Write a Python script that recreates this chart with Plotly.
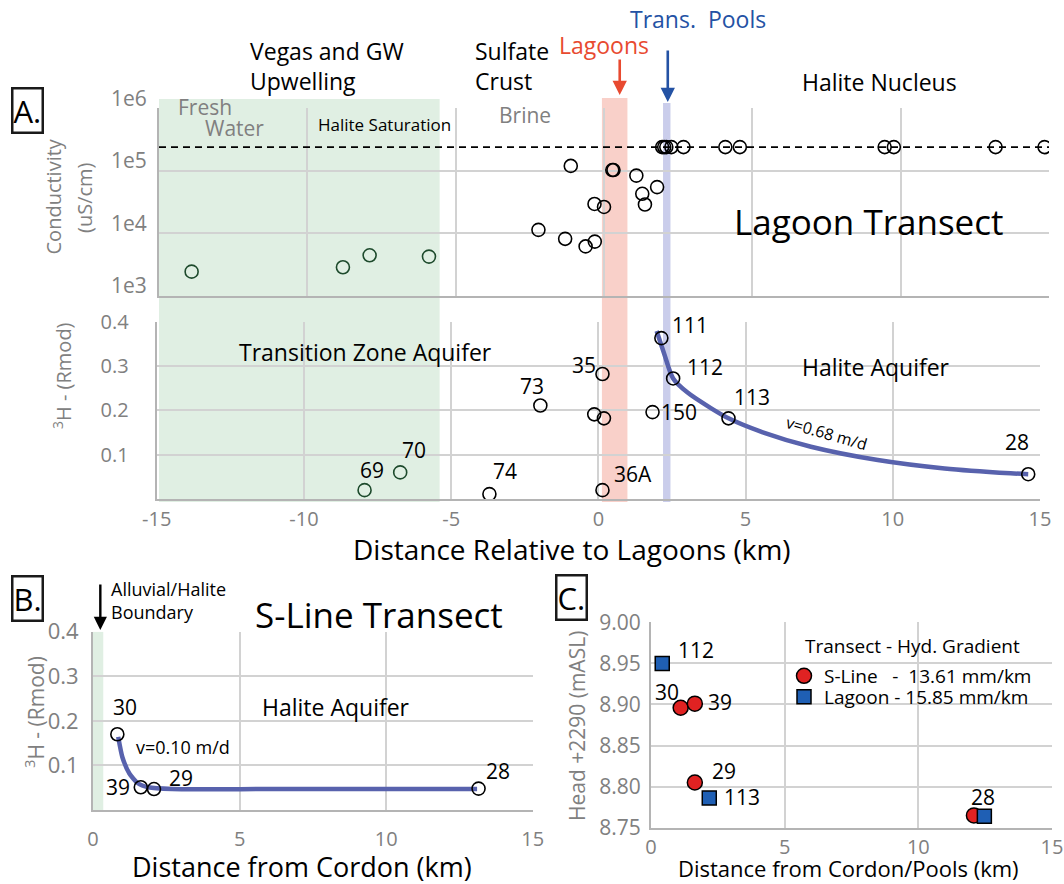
import plotly.graph_objects as go

W, H = 1064, 884
FONT = "Open Sans"
GRAY = "#808080"
GRID = "#d2d2d2"
AXLINE = "#b4b4b4"
CURVE = "#5862ad"
DKGREEN = "#1d4a2c"

# ---------------- Panel A: conductivity along the lagoon transect ----------------
SAT_LEVEL = 2.4e5  # halite saturation conductivity (uS/cm)
fresh_x = [-13.9, -8.8, -7.9, -5.9]
fresh_ec = [2450, 2880, 4470, 4260]
brine_x = [-1.12, 0.28, 0.32, 1.09, 1.79, 1.29, 1.38, -0.32, 0.0, -2.21, -1.31, -0.31, -0.62]
brine_ec = [1.2e5, 1.03e5, 1.03e5, 8.4e4, 5.5e4, 4.3e4, 2.9e4, 2.96e4, 2.65e4, 1.14e4, 8.2e3, 7.4e3, 6.2e3]
nucleus_x = [1.96, 2.03, 2.10, 2.27, 2.68, 4.09, 4.58, 9.46, 9.77, 13.2, 14.85]
nucleus_ec = [SAT_LEVEL] * len(nucleus_x)

# ---------------- Panel A: tritium along the lagoon transect ----------------
tz_ids = ["69", "70"]
tz_x = [-7.94, -6.73]
tz_h3 = [0.020, 0.060]
lag_ids = ["74", "73", "", "35", "", "36A", "150", "111", "112", "113", "28"]
lag_x = [-3.70, -1.97, -0.14, 0.14, 0.19, 0.14, 1.84, 2.14, 2.54, 4.42, 14.6]
lag_h3 = [0.011, 0.211, 0.191, 0.282, 0.182, 0.020, 0.196, 0.363, 0.272, 0.182, 0.056]
# advection model curve, v = 0.68 m/d
fitA_x = [1.98, 2.23, 2.54, 3.03, 3.82, 4.42, 5.52, 7.22, 9.49, 11.76, 14.0, 14.6]
fitA_h3 = [0.379, 0.329, 0.272, 0.240, 0.205, 0.182, 0.152, 0.118, 0.088, 0.069, 0.058, 0.056]

# ---------------- Panel B: S-Line transect ----------------
sline_ids = ["30", "39", "29", "28"]
sline_x = [0.83, 1.63, 2.08, 13.15]
sline_h3 = [0.170, 0.051, 0.047, 0.048]
# advection model curve, v = 0.10 m/d
fitB_x = [0.86, 1.0, 1.24, 1.53, 1.89, 2.7, 6.0, 13.1]
fitB_h3 = [0.164, 0.119, 0.082, 0.060, 0.051, 0.047, 0.047, 0.047]

# ---------------- Panel C: hydraulic head ----------------
headS_ids = ["30", "39", "29", "28"]
headS_x = [1.11, 1.64, 1.64, 12.08]
headS_y = [8.896, 8.901, 8.805, 8.765]
headL_ids = ["112", "113", "28"]
headL_x = [0.42, 2.18, 12.47]
headL_y = [8.950, 8.786, 8.764]

DIST_TICKS = [-15, -10, -5, 0, 5, 10, 15]
DIST_TEXT = ["-15", "-10", "-5", "0", "5", "10", "15"]


def px(x):
    return x / W


def py(y):
    return 1 - y / H


fig = go.Figure()

open_marker = dict(symbol="circle-open", size=13, color="black", line=dict(width=1.6, color="black"))
green_marker = dict(symbol="circle-open", size=13, color=DKGREEN, line=dict(width=1.6, color=DKGREEN))

# Panel A conductivity (x / y)
fig.add_trace(go.Scatter(x=[-15, 15], y=[SAT_LEVEL, SAT_LEVEL], mode="lines",
                         line=dict(color="black", width=1.6, dash="7px,5px"),
                         xaxis="x", yaxis="y", showlegend=False, hoverinfo="skip"))
fig.add_trace(go.Scatter(x=fresh_x, y=fresh_ec, mode="markers", marker=green_marker,
                         xaxis="x", yaxis="y", showlegend=False))
fig.add_trace(go.Scatter(x=brine_x, y=brine_ec, mode="markers", marker=open_marker,
                         xaxis="x", yaxis="y", showlegend=False))
fig.add_trace(go.Scatter(x=nucleus_x, y=nucleus_ec, mode="markers", marker=open_marker,
                         xaxis="x", yaxis="y", showlegend=False))

# Panel A tritium (x2 / y2)
fig.add_trace(go.Scatter(x=fitA_x, y=fitA_h3, mode="lines", line=dict(color=CURVE, width=4.5, shape="spline", smoothing=0.8),
                         xaxis="x2", yaxis="y2", showlegend=False, hoverinfo="skip"))
fig.add_trace(go.Scatter(x=tz_x, y=tz_h3, mode="markers", marker=green_marker, text=tz_ids,
                         xaxis="x2", yaxis="y2", showlegend=False))
fig.add_trace(go.Scatter(x=lag_x, y=lag_h3, mode="markers", marker=open_marker, text=lag_ids,
                         xaxis="x2", yaxis="y2", showlegend=False))

# Panel B (x3 / y3)
fig.add_trace(go.Scatter(x=fitB_x, y=fitB_h3, mode="lines", line=dict(color=CURVE, width=4.5, shape="spline", smoothing=0.6),
                         xaxis="x3", yaxis="y3", showlegend=False, hoverinfo="skip"))
fig.add_trace(go.Scatter(x=sline_x, y=sline_h3, mode="markers", marker=open_marker, text=sline_ids,
                         xaxis="x3", yaxis="y3", showlegend=False))

# Panel C (x4 / y4) -- one legend box per transect so the rows sit tightly
fig.add_trace(go.Scatter(x=headS_x, y=headS_y, mode="markers", name="S-Line\u00a0\u00a0\u00a0-\u00a0 13.61 mm/km",
                         marker=dict(symbol="circle", size=15, color="#e02222", line=dict(width=1.5, color="black")),
                         text=headS_ids, xaxis="x4", yaxis="y4", legend="legend"))
fig.add_trace(go.Scatter(x=headL_x, y=headL_y, mode="markers", name="Lagoon - 15.85 mm/km",
                         marker=dict(symbol="square", size=14, color="#1f5fb4", line=dict(width=1.5, color="black")),
                         text=headL_ids, xaxis="x4", yaxis="y4", legend="legend2"))

tickfont = dict(family=FONT, size=20, color=GRAY)


def axis(domain, rng, **kw):
    d = dict(domain=domain, range=rng, showgrid=True, gridcolor=GRID, gridwidth=1.5,
             zeroline=False, showline=True, linecolor=AXLINE, linewidth=2,
             ticks="", tickfont=tickfont, fixedrange=True, automargin=False)
    d.update(kw)
    return d


legend_style = dict(xanchor="left", yanchor="middle", bgcolor="rgba(0,0,0,0)",
                    font=dict(family=FONT, size=19, color="black"), itemwidth=30,
                    borderwidth=0)

fig.update_layout(
    width=W, height=H, margin=dict(l=0, r=0, t=0, b=0, pad=0, autoexpand=False),
    paper_bgcolor="white", plot_bgcolor="rgba(0,0,0,0)",
    font=dict(family=FONT, color="black"),
    xaxis=axis([px(159), px(1049)], [-15, 15], dtick=5, showticklabels=False, anchor="y"),
    yaxis=axis([py(296), py(108.3)], [3, 6], type="log", tickmode="array",
               tickvals=[1e3, 1e4, 1e5, 1e6], ticktext=["1e3", "1e4", "1e5", "1e6"],
               ticklabelshift=-10, ticklabelstandoff=6, anchor="x", tickfont=dict(family=FONT, size=21, color=GRAY)),
    xaxis2=axis([px(156.7), px(1040)], [-15, 15], tickvals=DIST_TICKS, ticktext=DIST_TEXT,
                anchor="y2", ticklabelstandoff=1),
    yaxis2=axis([py(499), py(321.7)], [0, 0.4], tickvals=[0.1, 0.2, 0.3, 0.4], anchor="x2",
                ticklabelstandoff=22, tickformat=".1f"),
    xaxis3=axis([px(93), px(532.8)], [0, 15], dtick=5, anchor="y3", ticklabelstandoff=10),
    yaxis3=axis([py(810), py(631.7)], [0, 0.4], tickvals=[0.1, 0.2, 0.3, 0.4], anchor="x3",
                ticklabelstandoff=8, tickformat=".1f", tickfont=dict(family=FONT, size=22, color=GRAY)),
    xaxis4=axis([px(651), px(1052)], [0, 15], dtick=5, anchor="y4", ticklabelstandoff=0),
    yaxis4=axis([py(827.7), py(622.3)], [8.75, 9.0], dtick=0.05, tickformat=".2f", anchor="x4",
                ticklabelstandoff=4, tickfont=dict(family=FONT, size=21, color=GRAY)),
    legend=dict(x=px(784), y=py(676), **legend_style),
    legend2=dict(x=px(784), y=py(697), **legend_style),
)

# Zone bands spanning both panel-A plots
fig.add_shape(type="rect", xref="x", yref="paper", x0=-15.04, x1=-5.54, y0=py(502), y1=py(99),
              fillcolor="rgba(160,205,170,0.33)", line=dict(width=0), layer="below")
fig.add_shape(type="rect", xref="x", yref="paper", x0=-0.07, x1=0.79, y0=py(502), y1=py(98),
              fillcolor="rgba(242,150,135,0.45)", line=dict(width=0), layer="below")
fig.add_shape(type="rect", xref="x", yref="paper", x0=1.99, x1=2.24, y0=py(502), y1=py(103),
              fillcolor="rgba(150,155,215,0.5)", line=dict(width=0), layer="below")
# Panel B boundary band
fig.add_shape(type="rect", xref="x3", yref="y3", x0=0, x1=0.35, y0=0, y1=0.4,
              fillcolor="rgba(160,205,170,0.33)", line=dict(width=0), layer="below")


def note(text, x, y, size=22, color="black", xanchor="center", yanchor="middle", **kw):
    fig.add_annotation(text=text, x=px(x), y=py(y), xref="paper", yref="paper", showarrow=False,
                       xanchor=xanchor, yanchor=yanchor, font=dict(family=FONT, size=size, color=color), **kw)


def boxed(text, x, y):
    fig.add_annotation(text=text, x=px(x), y=py(y), xref="paper", yref="paper", showarrow=False,
                       xanchor="center", yanchor="middle",
                       font=dict(family=FONT, size=31, color="black"), bordercolor="#1a1a1a",
                       borderwidth=2.5, borderpad=0, bgcolor="white")


# ---- Panel A texts ----
boxed("A.", 27, 110)
note("Vegas and GW<br>Upwelling", 248, 66, size=23, xanchor="left", align="left")
note("Sulfate<br>Crust", 473, 66, size=23, xanchor="left", align="left")
note("Lagoons", 557, 45, size=23, color="#e84a30", xanchor="left")
note("Trans.\u00a0 Pools", 628, 19, size=23, color="#2452a4", xanchor="left")
note("Halite Nucleus", 879, 82, size=23)
note("Fresh", 176, 107, size=21, color=GRAY, xanchor="left")
note("Water", 203, 128, size=21, color=GRAY, xanchor="left")
note("Halite Saturation", 316, 125, size=17, xanchor="left")
note("Brine", 497, 115, size=21, color=GRAY, xanchor="left")
note("Lagoon Transect", 732, 221, size=35, xanchor="left")
note("Conductivity", 52.5, 197, size=20, color=GRAY, textangle=-90)
note("(uS/cm)", 85, 198, size=20, color=GRAY, textangle=-90)

# arrows marking the lagoons and transitional pools
fig.add_annotation(x=0.53, y=py(95), xref="x", yref="paper", ax=0, ay=-37, text="", showarrow=True,
                   arrowhead=2, arrowsize=1.1, arrowwidth=2.6, arrowcolor="#e84a30")
fig.add_annotation(x=2.15, y=py(102), xref="x", yref="paper", ax=0, ay=-53, text="", showarrow=True,
                   arrowhead=2, arrowsize=1.1, arrowwidth=2.6, arrowcolor="#2452a4")

note("Transition Zone Aquifer", 237, 352, size=23, xanchor="left")
note("Halite Aquifer", 800, 367, size=23, xanchor="left")
note("<sup>3</sup>H - (Rmod)", 62, 376, size=20, color=GRAY, textangle=-90)
note("v=0.68 m/d", 826, 433, size=16, textangle=16)
for t, x, y in [("111", 690, 325), ("112", 705, 367), ("113", 752, 397), ("28", 1017, 442),
                ("150", 679, 412), ("36A", 633, 474), ("35", 584, 365), ("73", 532, 386),
                ("70", 414, 450), ("69", 372, 470), ("74", 505, 471)]:
    note(t, x, y, size=21)
note("Distance Relative to Lagoons (km)", 572, 549, size=28)

# ---- Panel B texts ----
boxed("B.", 27, 598)
note("Alluvial/Halite<br>Boundary", 109, 600, size=18, xanchor="left", align="left")
fig.add_annotation(x=0.25, y=py(630), xref="x3", yref="paper", ax=0, ay=-47, text="", showarrow=True,
                   arrowhead=2, arrowsize=1.1, arrowwidth=2.4, arrowcolor="black")
note("S-Line Transect", 253, 614, size=35, xanchor="left")
note("Halite Aquifer", 260, 707, size=23, xanchor="left")
note("v=0.10 m/d", 134, 747, size=18, xanchor="left")
for t, x, y in [("30", 125, 707), ("39", 118, 787), ("29", 181, 778), ("28", 498, 771)]:
    note(t, x, y, size=21)
note("<sup>3</sup>H - (Rmod)", 34, 712, size=21, color=GRAY, textangle=-90)
note("Distance from Cordon (km)", 302, 866, size=27)

# ---- Panel C texts ----
boxed("C.", 571, 597)
note("Transect - Hyd. Gradient", 803, 646, size=19, xanchor="left")
for t, x, y in [("112", 696, 650), ("30", 667, 692), ("39", 720, 702), ("29", 724, 771),
                ("113", 742, 797), ("28", 983, 797)]:
    note(t, x, y, size=21)
note("Head +2290 (mASL)", 577, 726, size=21, color=GRAY, textangle=-90)
note("Distance from Cordon/Pools (km)", 848, 868, size=22)

fig.write_html("out.html")
